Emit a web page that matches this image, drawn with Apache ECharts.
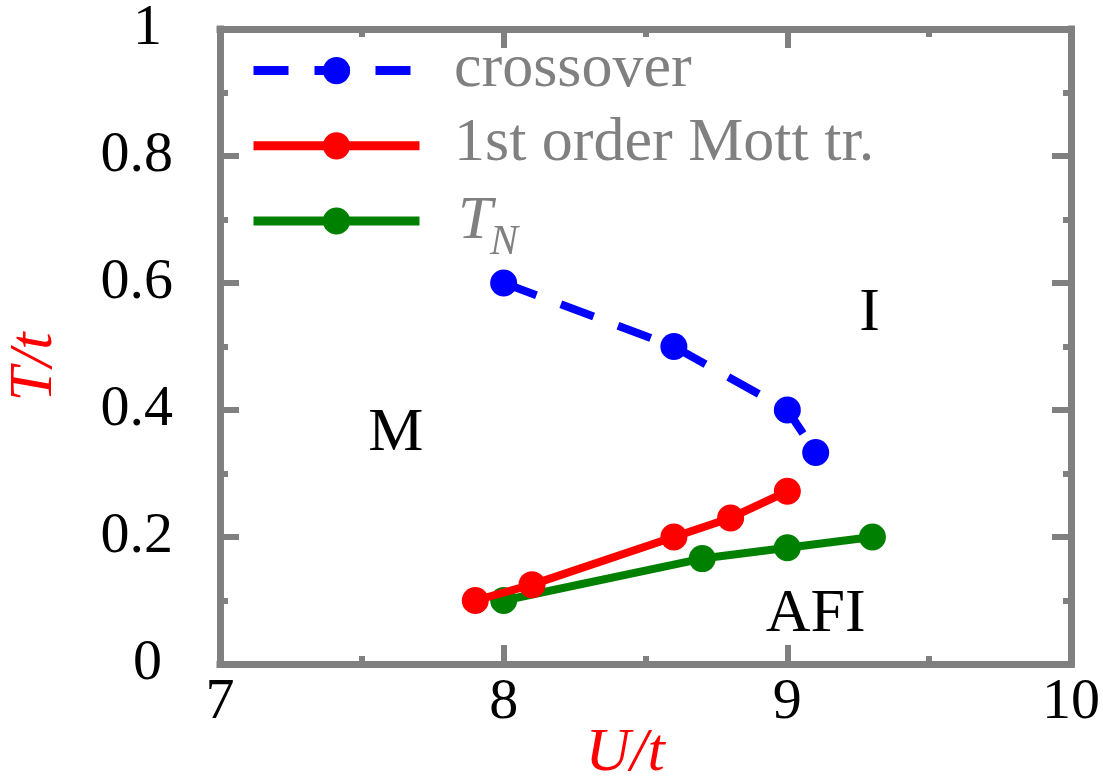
<!DOCTYPE html>
<html>
<head>
<meta charset="utf-8">
<script src="https://cdn.jsdelivr.net/npm/echarts@6/dist/echarts.min.js"></script>
<style>
  html, body { margin: 0; padding: 0; background: #ffffff; }
  #chart { width: 1103px; height: 780px; }
</style>
</head>
<body>
<div id="chart"></div>
<script>
// Phase boundaries in the (U/t, T/t) plane
const crossoverU = [8.0, 8.6, 9.0, 9.1];
const crossoverT = [0.6, 0.5, 0.4, 0.333];

const mottU = [7.9, 8.1, 8.6, 8.8, 9.0];
const mottT = [0.1, 0.125, 0.2, 0.23, 0.272];

const neelU = [8.0, 8.7, 9.0, 9.3];
const neelT = [0.1, 0.166, 0.183, 0.2];

// Region labels and where they sit (data coordinates)
const regionNames = ['M', 'I', 'AFI'];
const regionU = [7.62, 9.29, 9.1];
const regionT = [0.363, 0.552, 0.078];

const seriesNames = ['crossover', '1st order Mott tr.', 'T_N'];

const FRAME = '#808080';
const SERIF = "'Liberation Serif', 'DejaVu Serif', serif";

// Legend geometry: icon rows, text to the right of them
const LEGEND_LEFT = 249, LEGEND_TOP = 57, ICON_W = 166, ICON_H = 34, ROW_GAP = 48;
const LEGEND_TEXT_X = 454, TEXT_ROW0 = 69, TEXT_STEP = 76;

const zip = (xs, ys) => xs.map((x, i) => [x, ys[i]]);

function frameAxis(extra) {
  return Object.assign({
    type: 'value',
    axisLine: { show: true, onZero: false, lineStyle: { color: FRAME, width: 7, cap: 'square' } },
    axisTick: { show: true, inside: true, length: 19, lineStyle: { color: FRAME, width: 6 } },
    minorTick: { show: true, splitNumber: 2, length: 8, lineStyle: { color: FRAME, width: 6 } },
    splitLine: { show: false },
    minorSplitLine: { show: false }
  }, extra);
}

const chart = echarts.init(document.getElementById('chart'), null, { renderer: 'canvas' });

chart.setOption({
  animation: false,
  backgroundColor: '#ffffff',
  grid: { left: 220, right: 29, top: 25, bottom: 116, containLabel: false },
  legend: {
    data: seriesNames.slice(),
    orient: 'vertical',
    left: LEGEND_LEFT,
    top: LEGEND_TOP,
    padding: 0,
    itemWidth: ICON_W,
    itemHeight: ICON_H,
    itemGap: ROW_GAP,
    selectedMode: false,
    lineStyle: { width: 9 },
    formatter: () => '',
    textStyle: { fontSize: 8, lineHeight: 8 }
  },
  xAxis: [
    frameAxis({
      position: 'bottom', min: 7, max: 10, interval: 1,
      axisLabel: { show: true, margin: 10, color: '#000000', fontFamily: SERIF, fontSize: 58,
                   showMinLabel: true, showMaxLabel: true }
    }),
    frameAxis({ position: 'top', min: 7, max: 10, interval: 1, axisLabel: { show: false } })
  ],
  yAxis: [
    frameAxis({
      position: 'left', min: 0, max: 1, interval: 0.2,
      axisLabel: {
        show: true, margin: 47, align: 'right', color: '#000000', fontFamily: SERIF, fontSize: 58,
        showMinLabel: true, showMaxLabel: true,
        formatter: v => (v === 0 || v === 1) ? '{int|' + v + '}' : String(+v.toFixed(1)),
        rich: { int: { fontFamily: SERIF, fontSize: 58, color: '#000000', padding: [0, 11, 0, 0] } }
      }
    }),
    frameAxis({ position: 'right', min: 0, max: 1, interval: 0.2, axisLabel: { show: false } })
  ],
  series: [
    {
      name: seriesNames[2], type: 'line', data: zip(neelU, neelT),
      symbol: 'circle', symbolSize: 27, showAllSymbol: true,
      lineStyle: { color: '#008000', width: 8 },
      itemStyle: { color: '#008000' }, z: 2
    },
    {
      name: seriesNames[1], type: 'line', data: zip(mottU, mottT),
      symbol: 'circle', symbolSize: 27, showAllSymbol: true,
      lineStyle: { color: '#ff0000', width: 8 },
      itemStyle: { color: '#ff0000' }, z: 3
    },
    {
      name: seriesNames[0], type: 'line', data: zip(crossoverU, crossoverT),
      symbol: 'circle', symbolSize: 27, showAllSymbol: true,
      lineStyle: { color: '#0000ff', width: 8, type: [35, 26] },
      itemStyle: { color: '#0000ff' }, z: 4
    }
  ]
});

// Region labels
const graphics = regionNames.map((txt, i) => {
  const p = chart.convertToPixel({ xAxisIndex: 0, yAxisIndex: 0 }, [regionU[i], regionT[i]]);
  return {
    type: 'text', x: p[0], y: p[1], z: 10,
    style: { text: txt, fontFamily: SERIF, fontSize: 62, fill: '#000000',
             align: 'center', verticalAlign: 'middle' }
  };
});

// Legend entry texts, one per icon row
const rowY = i => TEXT_ROW0 + i * TEXT_STEP;
const legendFont = { fontFamily: SERIF, fontSize: 62, fill: '#808080', align: 'left', verticalAlign: 'middle' };
graphics.push({ type: 'text', x: LEGEND_TEXT_X, y: rowY(0) + 1, z: 10,
                style: Object.assign({ text: seriesNames[0] }, legendFont) });
graphics.push({ type: 'text', x: LEGEND_TEXT_X, y: rowY(1) - 1, z: 10,
                style: Object.assign({ text: seriesNames[1] }, legendFont) });
graphics.push({ type: 'text', x: LEGEND_TEXT_X + 4, y: rowY(2) + 1, z: 10,
                style: Object.assign({ text: 'T', fontStyle: 'italic' }, legendFont) });
graphics.push({ type: 'text', x: LEGEND_TEXT_X + 36, y: rowY(2) + 22, z: 10,
                style: Object.assign({ text: 'N', fontStyle: 'italic' }, legendFont, { fontSize: 42 }) });

// Axis titles
graphics.push({
  type: 'text', x: 625, y: 754, z: 10,
  style: { text: 'U/t', fontFamily: SERIF, fontSize: 62, fontStyle: 'italic', fill: '#ff0000',
           align: 'center', verticalAlign: 'middle' }
});
graphics.push({
  type: 'text', x: 35, y: 367, rotation: Math.PI / 2, z: 10,
  style: { text: 'T/t', fontFamily: SERIF, fontSize: 62, fontStyle: 'italic', fill: '#ff0000',
           align: 'center', verticalAlign: 'middle' }
});

chart.setOption({ graphic: graphics });
</script>
</body>
</html>
